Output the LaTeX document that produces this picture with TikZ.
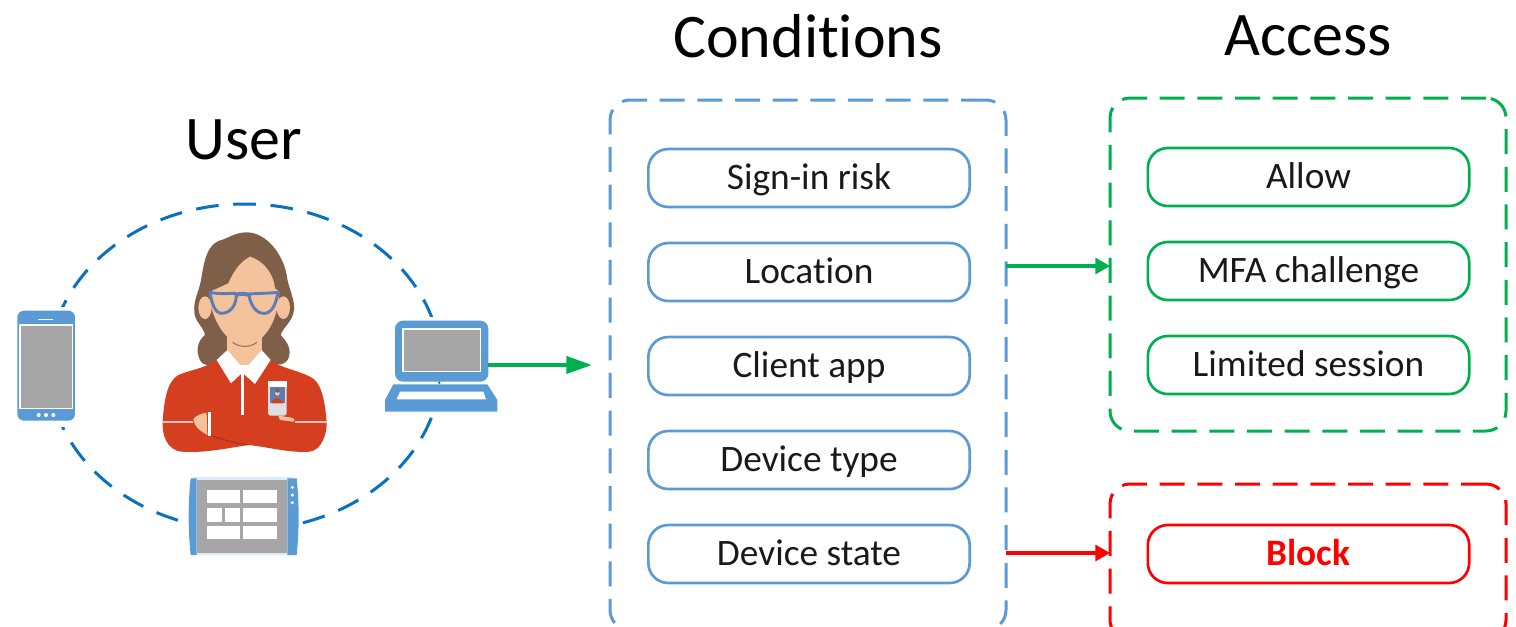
\documentclass[tikz,border=0pt]{standalone}
\usepackage{fontspec}
\setmainfont{Carlito}[Ligatures=NoCommon]
\usetikzlibrary{arrows.meta}
\definecolor{cblue}{RGB}{91,155,213}
\definecolor{ringblue}{RGB}{10,112,192}
\definecolor{cgreen}{RGB}{0,176,80}
\definecolor{cred}{RGB}{255,0,0}
\definecolor{hair}{RGB}{127,95,72}
\definecolor{skin}{RGB}{244,194,155}
\definecolor{shirt}{RGB}{214,62,32}
\definecolor{glass}{RGB}{92,125,184}
\definecolor{sgray}{RGB}{166,166,166}
\tikzset{
  panel/.style={draw=#1,line width=2.25pt,dash pattern=on 18.75pt off 9.5pt,rounded corners=15pt,minimum width=297pt,inner sep=0pt,outer sep=0pt},
  itembox/.style={draw=#1,line width=2pt,rounded corners=15pt,minimum width=241pt,minimum height=43.5pt,inner sep=0pt,font=\fontsize{28}{32}\selectfont,text=black!90,text height=21pt,text depth=3.5pt},
  heading/.style={font=\fontsize{46.5}{52}\selectfont,text=black,inner sep=0pt},
  link/.style={draw=#1,line width=2.3pt,-{Triangle[length=11pt,width=12pt,fill=#1]}},
  ring/.style={draw=ringblue,line width=2.25pt,dash pattern=on 17pt off 11pt,dash phase=17pt},
}
\begin{document}
\begin{tikzpicture}[x=0.75pt,y=-0.75pt]
\useasboundingbox (0,0) rectangle (1516,626);
\clip (0,0) rectangle (1516,626);
% headings
\node[heading] (tcond) at (808,36) {Conditions};
\node[heading] (tacc) at (1308,36) {Access};
\node[heading] (tuser) at (244,140) {User};
% panels
\node[panel=cblue,minimum height=397.5pt] (conditions) at (808,365) {};
\node[panel=cgreen,minimum height=249.75pt] (access) at (1308,264.5) {};
\node[panel=cred,minimum height=117pt] (blockpanel) at (1308,562) {};
% condition items
\node[itembox=cblue] (signin) at (809,178) {Sign-in risk};
\node[itembox=cblue] (location) at (809,272) {Location};
\node[itembox=cblue] (clientapp) at (809,366) {Client app};
\node[itembox=cblue] (devtype) at (809,460) {Device type};
\node[itembox=cblue] (devstate) at (809,554) {Device state};
% access items
\node[itembox=cgreen] (allow) at (1308.5,177) {Allow};
\node[itembox=cgreen] (mfa) at (1308.5,271) {MFA challenge};
\node[itembox=cgreen] (limited) at (1308.5,365) {Limited session};
\node[itembox=cred,text=cred] (block) at (1308.5,554) {\textbf{Block}};
% connectors
\draw[link=cgreen] (conditions.east |- 0,266) -- (access.west |- 0,266);
\draw[link=cred] (conditions.east |- 0,553) -- (blockpanel.west |- 0,553);
% ring
\coordinate (ringc) at (245,367);
\draw[ring] (ringc) ellipse [x radius=196,y radius=163];
% phone
\begin{scope}[shift={(0,200)},scale=1/3]
\fill[white] (40,320) rectangle (240,680);
\fill[cblue,rounded corners=5pt] (52,332) rectangle (225,662);
\fill[white] (58,373) rectangle (220,628);
\fill[sgray] (63,379) rectangle (215,623);
\draw[white,line width=1.2pt] (115,358) -- (160,358);
\foreach \dx in {116,138,160} \fill[white] (\dx,645) circle (6);
\end{scope}
% laptop
\begin{scope}[shift={(250,200)},scale=1/3]
\fill[white] (395,350) rectangle (755,650);
\fill[cblue,rounded corners=6pt] (435,545) -- (435,362) -- (715,362) -- (715,545) -- cycle;
\fill[white] (457,385) rectangle (693,517);
\fill[sgray] (462,390) rectangle (690,512);
\fill[cblue] (430,553) -- (712,553) -- (742,600) -- (742,635) -- (405,635) -- (405,600) -- cycle;
\fill[white] (450,575) -- (700,575) -- (708,598) -- (440,598) -- cycle;
\fill[ringblue] (568,548) circle (4);
\coordinate (laptopE) at (715,495);
\coordinate (arrowend) at (1025,495);
\end{scope}
\draw[draw=cgreen,line width=2.3pt,-{Triangle[length=19pt,width=13pt,fill=cgreen]}] (laptopE) -- (arrowend);
% tablet
\begin{scope}[shift={(180,470)},scale=1/3]
\fill[white] (15,15) rectangle (365,265);
\fill[cblue!20] (40,20) rectangle (340,32);
\fill[sgray] (50,30) rectangle (322,250);
\fill[cblue!20] (40,250) rectangle (340,256);
\fill[cblue] (32,25) -- (50,25) -- (50,255) -- (32,255) .. controls (24,180) and (24,100) .. (32,25) -- cycle;
\fill[cblue] (322,25) -- (350,25) .. controls (358,100) and (358,180) .. (350,255) -- (322,255) -- cycle;
\foreach \a/\b/\c/\d in {82/60/180/100,188/60/290/100,82/115/127/157,135/115/180/157,188/115/290/157,82/167/180/208,188/167/290/208}
  \fill[white] (\a,\b) rectangle (\c,\d);
\foreach \dy in {52,75,98} \fill[white] (337,\dy) circle (5);
\end{scope}
% person
\begin{scope}[shift={(150,225)},scale=1/3]
% hair
\fill[hair] (290,22) .. controls (255,22) and (235,40) .. (205,48) .. controls (165,65) and (160,130) .. (152,170)
  .. controls (145,205) and (130,225) .. (133,262) .. controls (135,290) and (160,305) .. (165,330)
  .. controls (145,345) and (135,375) .. (150,405) .. controls (160,425) and (185,425) .. (200,410)
  -- (365,410) .. controls (385,425) and (410,420) .. (417,395) .. controls (425,365) and (405,345) .. (392,330)
  .. controls (400,305) and (428,290) .. (432,255) .. controls (435,220) and (415,190) .. (410,150)
  .. controls (400,90) and (350,22) .. (290,22) -- cycle;
% neck
\fill[skin] (232,310) rectangle (335,420);
% ears
\fill[skin] (165,248) ellipse (20 and 34);
\fill[skin] (400,248) ellipse (20 and 34);
% face
\fill[skin] (300,95) .. controls (270,110) and (250,140) .. (235,175) -- (180,200)
  .. controls (175,260) and (215,330) .. (250,350) .. controls (270,365) and (300,365) .. (320,350)
  .. controls (360,325) and (385,270) .. (388,200) -- (375,190) .. controls (370,140) and (335,105) .. (300,95) -- cycle;
\draw[hair!80!skin,line width=.8pt] (248,352) .. controls (268,368) and (302,368) .. (320,352);
% glasses
\draw[glass,line width=2.2pt,line join=round] (180,202) .. controls (205,208) and (245,205) .. (258,205)
  .. controls (262,240) and (240,265) .. (215,265) .. controls (195,265) and (185,235) .. (180,202) -- cycle;
\draw[glass,line width=2.2pt,line join=round] (384,202) .. controls (360,205) and (325,205) .. (297,207)
  .. controls (300,240) and (320,268) .. (345,265) .. controls (368,262) and (378,235) .. (384,202) -- cycle;
\draw[glass,line width=3pt] (258,210) .. controls (270,205) and (285,205) .. (297,210);
% shirt
\fill[shirt] (200,405) .. controls (165,430) and (120,435) .. (85,450) .. controls (50,470) and (42,530) .. (38,590)
  .. controls (36,630) and (50,675) .. (95,680) .. controls (160,685) and (230,670) .. (295,660)
  .. controls (350,665) and (420,685) .. (480,680) .. controls (515,675) and (532,625) .. (530,590)
  .. controls (525,530) and (515,470) .. (480,455) .. controls (440,435) and (395,430) .. (362,405) -- (280,440) -- cycle;
\draw[shirt!75!black,line width=.6pt] (180,630) .. controls (220,645) and (260,655) .. (295,660);
% collar
\fill[white] (232,375) -- (200,405) -- (243,475) -- (277,443) -- (315,477) -- (362,405) -- (335,375) -- (283,435) -- cycle;
\draw[white,line width=2.2pt] (278,445) -- (278,570);
% sleeves seam
\draw[white!70!shirt,line width=1.3pt] (38,592) -- (130,592);
\draw[white!70!shirt,line width=1.3pt] (435,592) -- (530,592);
% hands
\fill[skin] (130,582) .. controls (140,570) and (155,565) .. (170,563) -- (172,630) .. controls (155,620) and (135,610) .. (130,582) -- cycle;
\draw[white,line width=2.4pt] (178,560) -- (178,632);
\fill[skin] (385,572) -- (425,578) .. controls (436,582) and (436,590) .. (430,590) -- (390,585) -- cycle;
% badge
\fill[white!88!black,rounded corners=2pt] (354,468) rectangle (410,572);
\fill[white] (354,468) rectangle (410,485);
\fill[glass] (359,485) rectangle (405,535);
\fill[shirt] (365,535) .. controls (365,515) and (395,515) .. (400,535) -- cycle;
\fill[skin] (382,505) circle (7);
\fill[hair] (382,497) circle (6);
\end{scope}
\end{tikzpicture}
\end{document}
